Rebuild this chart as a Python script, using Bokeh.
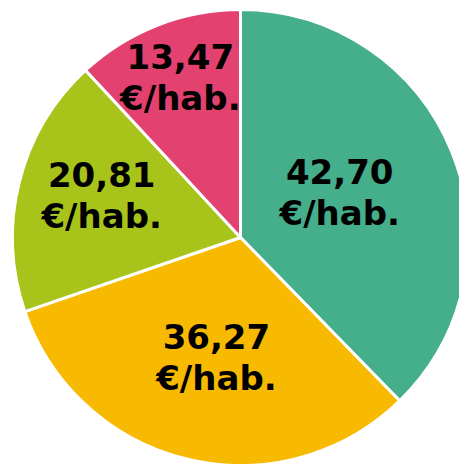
import math
from bokeh.plotting import figure
from bokeh.models import Range1d, ColumnDataSource
from bokeh.core.properties import value
from bokeh.embed import file_html
from bokeh.resources import INLINE

# Data (clockwise from 12 o'clock)
categories = ["A", "B", "C", "D"]
values = [42.70, 36.27, 20.81, 13.47]
colors = ["#45AE8A", "#F8BA00", "#A8C41A", "#E3416F"]
unit = "€/hab."

# Layout
W, H = 459, 464
cx, cy, R = 240, 227, 228
label_r = [109, 122, 145, 171]
label_da = [2.3, 2.0, -2.7, -0.8]  # degrees nudge

total = sum(values)
starts, ends, mids = [], [], []
a = math.pi / 2
for v in values:
    ext = 2 * math.pi * v / total
    starts.append(a)
    ends.append(a - ext)
    mids.append(a - ext / 2)
    a -= ext

lx = [cx + r * math.cos(m + math.radians(d)) for r, m, d in zip(label_r, mids, label_da)]
ly = [cy + r * math.sin(m + math.radians(d)) for r, m, d in zip(label_r, mids, label_da)]
labels = [f"{v:.2f}".replace(".", ",") + "\n" + unit for v in values]

src = ColumnDataSource(dict(start=starts, end=ends, color=colors, lx=lx, ly=ly, label=labels))

p = figure(width=W, height=H, output_backend="svg", toolbar_location=None,
           x_range=Range1d(0, W), y_range=Range1d(0, H),
           min_border=0, outline_line_color=None)
p.axis.visible = False
p.grid.visible = False
p.background_fill_color = "white"
p.border_fill_color = "white"

p.wedge(x=cx, y=cy, radius=R, start_angle="start", end_angle="end", direction="clock",
        fill_color="color", line_color="white", line_width=3, source=src)

p.text(x="lx", y="ly", text="label", source=src, text_align="center", text_baseline="middle",
       text_font=value("DejaVu Sans"), text_font_style="bold", text_font_size="34px",
       text_color="#000000", text_line_height=1.03)

open("out.html", "w").write(file_html(p, INLINE))
